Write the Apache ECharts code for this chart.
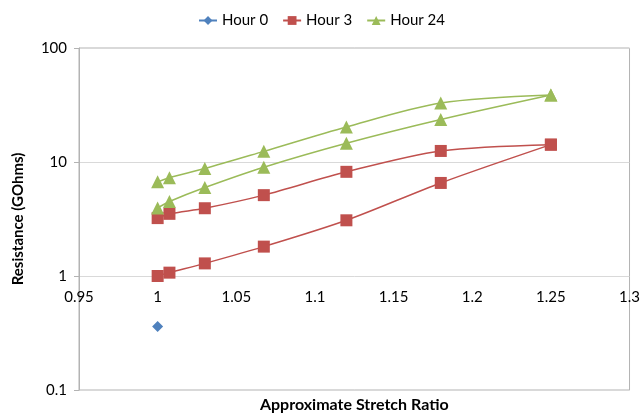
<!DOCTYPE html>
<html>
<head>
<meta charset="utf-8">
<script src="https://cdn.jsdelivr.net/npm/echarts@6/dist/echarts.min.js"></script>
<style>html,body{margin:0;padding:0;background:#fff;}#c{width:643px;height:418px;}</style>
</head>
<body>
<div id="c"></div>
<script>
const stretch = [1, 1.0075, 1.03, 1.0675, 1.12, 1.18, 1.25];
const hour0X = [1];
const hour0Y = [0.36];
const hour3Lower = [1.0, 1.07, 1.29, 1.81, 3.08, 6.55, 14.2];
const hour3Upper = [3.22, 3.51, 3.93, 5.12, 8.2, 12.5, 14.2];
const hour24Lower = [3.95, 4.5, 5.97, 9.0, 14.6, 23.6, 38.7];
const hour24Upper = [6.7, 7.28, 8.76, 12.4, 20.3, 32.9, 38.7];
const yTicks = [0.1, 1, 10, 100];
const xTicks = [0.95, 1, 1.05, 1.1, 1.15, 1.2, 1.25, 1.3];

const pair = (xs, ys) => xs.map((x, i) => [x, ys[i]]);
const FONT = 'Lato';
const BLUE = '#4F81BD', RED = '#C0504D', GREEN = '#9BBB59';

function lineSeries(name, color, symbol, size, data) {
  return {
    name, type: 'line', data, smooth: 0.3,
    symbol, symbolSize: size,
    lineStyle: { color, width: 1.5 },
    itemStyle: { color },
    emphasis: { disabled: true }
  };
}

const chart = echarts.init(document.getElementById('c'), null, { renderer: 'canvas' });
chart.setOption({
  animation: false,
  textStyle: { fontFamily: FONT },
  legend: {
    top: 8, left: 'center',
    itemWidth: 18, itemHeight: 11, itemGap: 14,
    textStyle: { fontFamily: FONT, fontSize: 15, color: '#000' },
    data: ['Hour 0', 'Hour 3', 'Hour 24']
  },
  grid: { left: 79, right: 11, top: 48, bottom: 22, show: true, borderColor: '#b3b3b3', borderWidth: 1 },
  xAxis: {
    type: 'value', min: 0.95, max: 1.3, interval: 0.05,
    offset: -116,
    name: 'Approximate Stretch Ratio', nameLocation: 'middle', nameGap: 123,
    nameTextStyle: { fontFamily: FONT, fontSize: 16, fontWeight: 'bold', color: '#000' },
    axisLine: { show: false },
    axisTick: { show: false },
    splitLine: { show: false },
    axisLabel: {
      margin: 16, fontFamily: FONT, fontSize: 15, color: '#000',
      showMinLabel: true, showMaxLabel: true,
      formatter: v => { const t = xTicks.find(k => Math.abs(k - v) < 1e-6); return t === undefined ? '' : String(t); }
    }
  },
  yAxis: {
    type: 'log', logBase: 10, min: 0.1, max: 100,
    name: 'Resistance (GOhms)', nameLocation: 'middle', nameGap: 53,
    nameTextStyle: { fontFamily: FONT, fontSize: 15, fontWeight: 'bold', color: '#000' },
    axisLine: { show: true, lineStyle: { color: '#b3b3b3' } },
    axisTick: { show: true, inside: false, length: 5, lineStyle: { color: '#b3b3b3' } },
    splitLine: { show: true, lineStyle: { color: '#d9d9d9' } },
    axisLabel: {
      margin: 12, fontFamily: FONT, fontSize: 15, color: '#000',
      formatter: v => { const t = yTicks.find(k => Math.abs(k - v) / k < 1e-6); return t === undefined ? '' : String(t); }
    }
  },
  series: [
    lineSeries('Hour 0', BLUE, 'diamond', 11, pair(hour0X, hour0Y)),
    lineSeries('Hour 3', RED, 'rect', 12, pair(stretch, hour3Lower)),
    lineSeries('Hour 3', RED, 'rect', 12, pair(stretch, hour3Upper)),
    lineSeries('Hour 24', GREEN, 'triangle', 13, pair(stretch, hour24Lower)),
    lineSeries('Hour 24', GREEN, 'triangle', 13, pair(stretch, hour24Upper))
  ]
});
</script>
</body>
</html>
